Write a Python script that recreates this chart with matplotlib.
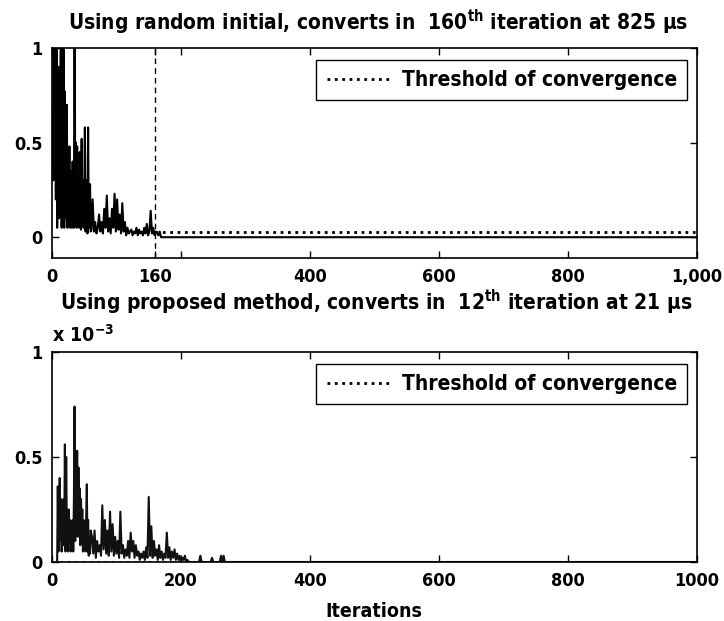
import matplotlib
matplotlib.use('Agg')
import matplotlib.pyplot as plt

plt.rcParams['font.family'] = ['DejaVu Sans']
plt.rcParams['font.stretch'] = 'condensed'
plt.rcParams['font.weight'] = 'bold'
plt.rcParams['mathtext.fontset'] = 'custom'
plt.rcParams['mathtext.rm'] = 'DejaVu Sans:weight=bold:stretch=condensed'
plt.rcParams['mathtext.bf'] = 'DejaVu Sans:weight=bold:stretch=condensed'

# ---- data ----
# top: random initial, error per iteration
iter_top = list(range(1, 61)) + [61, 63, 65, 67, 69, 71, 73, 75, 77, 79,
            81, 83, 85, 87, 89, 91, 93, 95, 97, 99, 101, 103, 105, 107, 109, 111, 113, 115, 117, 119,
            121, 123, 125, 127, 129, 131, 133, 135, 137, 139, 141, 143, 145, 147, 149, 151, 153, 155, 157, 159,
            161, 163, 165, 167, 169, 171, 1000]
err_top = [1.5, 0.3, 2.0, 0.9, 1.6, 0.2, 1.2, 0.05, 0.27, 0.9, 0.1, 0.27, 0.8, 1.5, 0.05, 1.3, 0.25, 1.1, 0.05, 0.77,
           0.2, 0.1, 0.7, 0.05, 0.3, 0.15, 0.48, 0.05, 0.35, 0.2, 0.05, 0.4, 0.1, 0.05, 1.3, 0.3, 0.5, 0.05, 0.48, 0.1,
           0.3, 0.05, 0.45, 0.2, 0.04, 0.52, 0.1, 0.3, 0.05, 0.2, 0.58, 0.03, 0.1, 0.3, 0.02, 0.58, 0.05, 0.15, 0.28, 0.03,
           0.04, 0.2, 0.03, 0.08, 0.02, 0.05, 0.12, 0.03, 0.08, 0.02,
           0.15, 0.05, 0.22, 0.03, 0.1, 0.02, 0.15, 0.05, 0.23, 0.03, 0.2, 0.04, 0.12, 0.02, 0.18, 0.03, 0.08, 0.01, 0.05, 0.02,
           0.03, 0.04, 0.01, 0.03, 0.02, 0.05, 0.01, 0.04, 0.02, 0.03, 0.01, 0.05, 0.02, 0.07, 0.01, 0.03, 0.14, 0.02, 0.05, 0.01,
           0.03, 0.02, 0.01, 0.03, 0.0, 0.0, 0.0]
thr_top = 0.03
conv_top = 160

# bottom: proposed method, error per iteration (x 1e-3)
iter_bot = list(range(8, 61)) + [62, 64, 66, 68, 70, 72, 74, 76, 78, 80, 82, 84, 86,
            88, 90, 92, 94, 96, 98, 100, 102, 104, 106, 108, 110, 112, 114, 116, 118, 120, 122, 124, 126,
            128, 130, 132, 134, 136, 138, 140, 142, 144, 146, 148, 150, 152, 154, 156, 158, 160, 162, 164, 166,
            168, 170, 172, 174, 176, 178, 180, 182, 184, 186, 188, 190, 192, 194, 196, 198, 200, 202, 204, 206,
            208, 210, 212, 228, 230, 232, 246, 248, 250, 260, 262, 264, 266, 268, 1000]
err_bot = [0.0, 0.36, 0.05, 0.15, 0.4, 0.1, 0.3, 0.05, 0.2, 0.08, 0.3, 0.12, 0.56, 0.05, 0.5, 0.15, 0.2, 0.05, 0.25, 0.1,
           0.2, 0.05, 0.15, 0.1, 0.2, 0.05, 0.3, 0.74, 0.1, 0.35, 0.15, 0.53, 0.12, 0.45, 0.2, 0.35, 0.08, 0.3, 0.15, 0.25,
           0.05, 0.2, 0.1, 0.15, 0.05, 0.2, 0.37, 0.05, 0.2, 0.03, 0.12, 0.04, 0.15,
           0.12, 0.04, 0.15, 0.02, 0.1, 0.05, 0.08, 0.03, 0.27, 0.06, 0.2, 0.04, 0.15,
           0.03, 0.24, 0.05, 0.18, 0.03, 0.12, 0.04, 0.1, 0.02, 0.24, 0.04, 0.08, 0.02, 0.06, 0.03, 0.1, 0.02, 0.14, 0.05, 0.1,
           0.02, 0.08, 0.03, 0.05, 0.01, 0.04, 0.02, 0.05, 0.01, 0.07, 0.02, 0.31, 0.03, 0.17, 0.02, 0.1, 0.03, 0.06, 0.01, 0.08,
           0.02, 0.05, 0.01, 0.04, 0.02, 0.14, 0.02, 0.07, 0.01, 0.05, 0.02, 0.06, 0.01, 0.04, 0.01, 0.03, 0.0, 0.02, 0.01, 0.03,
           0.0, 0.01, 0.0, 0.0, 0.03, 0.0, 0.0, 0.02, 0.0, 0.0, 0.03, 0.0, 0.03, 0.0, 0.0]
thr_bot = 0.0
conv_bot = 12

xticks_top = [0, 160, 200, 400, 600, 800, 1000]
xlabels_top = ['0', '160', '', '400', '600', '800', '1,000']
xticks_bot = [0, 200, 400, 600, 800, 1000]
xlabels_bot = ['0', '200', '400', '600', '800', '1000']
yticks = [0, 0.5, 1]
ylabels = ['0', '0.5', '1']

fig = plt.figure(figsize=(7.24, 6.21), dpi=100)
ax1 = fig.add_axes([0.0718, 0.5845, 0.891, 0.3382])
ax2 = fig.add_axes([0.0718, 0.095, 0.891, 0.3382])

ax1.plot(iter_top, err_top, color='black', lw=1.5)
ax1.plot([conv_top, 1000], [thr_top, thr_top], color='black', lw=2, ls=':',
         label='Threshold of convergence')
ax1.axvline(conv_top, color='black', lw=1, ls='--', dashes=(4, 3))
ax1.set_xlim(0, 1000)
ax1.set_ylim(-0.11, 1)
ax1.set_xticks(xticks_top)
ax1.set_xticklabels(xlabels_top)

ax2.plot(iter_bot, err_bot, color='#111111', lw=1.5)
ax2.plot([conv_bot, 1000], [thr_bot, thr_bot], color='black', lw=2, ls=':',
         label='Threshold of convergence')
ax2.set_xlim(0, 1000)
ax2.set_ylim(0, 1)
ax2.set_xticks(xticks_bot)
ax2.set_xticklabels(xlabels_bot)

for ax in (ax1, ax2):
    ax.set_yticks(yticks)
    ax.set_yticklabels(ylabels)
    ax.tick_params(direction='in', top=True, right=True, length=5, width=1,
                   labelsize=13, pad=7)
    for s in ax.spines.values():
        s.set_linewidth(1.2)
    leg = ax.legend(loc='upper right', bbox_to_anchor=(0.985, 0.945), fancybox=False,
                    edgecolor='black', framealpha=1, fontsize=15, handlelength=3.1,
                    handletextpad=0.5, borderpad=0.5, borderaxespad=0)
    leg.get_frame().set_linewidth(1.0)

fig.text(0.522, 0.9517, r'Using random initial, converts in  160$^{\mathrm{th}}$ iteration at 825 μs',
         ha='center', va='baseline', fontsize=15)
fig.text(0.519, 0.5005, r'Using proposed method, converts in  12$^{\mathrm{th}}$ iteration at 21 μs',
         ha='center', va='baseline', fontsize=15)
fig.text(0.0718, 0.449, r'x 10$^{\mathrm{-3}}$', ha='left', va='baseline', fontsize=14)
fig.text(0.517, 0.0064, 'Iterations', ha='center', va='baseline', fontsize=14)

fig.savefig('out.png', dpi=100)
